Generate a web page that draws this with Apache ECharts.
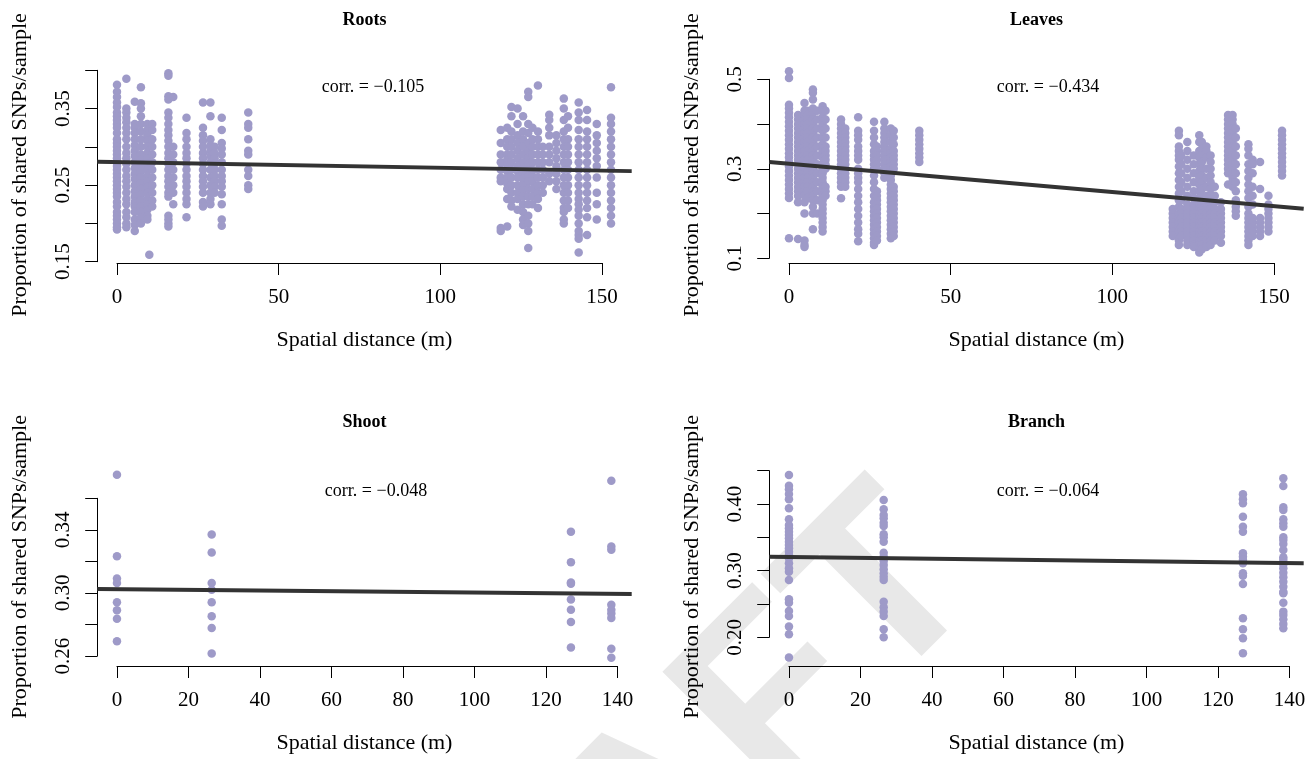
<!DOCTYPE html>
<html><head><meta charset="utf-8">
<script src="https://cdn.jsdelivr.net/npm/echarts@6/dist/echarts.min.js"></script>
<style>html,body{margin:0;padding:0;background:#fff}#c{width:1315px;height:759px}</style>
</head><body><div id="c"></div>
<script>
// ---------------- DATA ----------------
const panelTitles = ['Roots', 'Leaves', 'Shoot', 'Branch'];
const corrTexts = ['corr. = \u22120.105', 'corr. = \u22120.434', 'corr. = \u22120.048', 'corr. = \u22120.064'];
const xTitle = 'Spatial distance (m)';
const yTitle = 'Proportion of shared SNPs/sample';

// Roots: column distances and values per column
const rootsX = [0, 2.9, 5.5, 7.4, 9.4, 10.0, 10.9, 15.9, 17.4, 21.5, 26.6, 28.9, 30.2, 32.4, 40.6,
  118.7, 120.7, 122.0, 123.9, 125.6, 127.2, 128.5, 130.2, 131.7, 133.7, 135.9, 138.2, 139.5, 142.8, 145.4, 148.4, 152.8];
const rootsY = [
  [0.381,0.372,0.365,0.358,0.352,0.345,0.340,0.335,0.330,0.325,0.318,0.310,0.305,0.300,0.295,0.290,0.285,0.280,0.275,0.270,0.265,0.260,0.255,0.250,0.245,0.240,0.235,0.228,0.222,0.215,0.210,0.205,0.200,0.195,0.192],
  [0.389,0.350,0.345,0.338,0.332,0.325,0.318,0.310,0.300,0.292,0.285,0.278,0.270,0.262,0.255,0.248,0.240,0.232,0.225,0.215,0.208,0.200,0.195],
  [0.359,0.330,0.325,0.318,0.310,0.302,0.295,0.288,0.280,0.272,0.265,0.258,0.250,0.242,0.235,0.228,0.222,0.215,0.205,0.198,0.190],
  [0.378,0.357,0.350,0.340,0.330,0.320,0.310,0.300,0.290,0.283,0.275,0.268,0.260,0.252,0.245,0.238,0.230,0.222,0.215,0.208,0.200],
  [0.330,0.322,0.315,0.308,0.300,0.292,0.285,0.278,0.270,0.262,0.255,0.248,0.240,0.232,0.225,0.218,0.210,0.205],
  [0.159],
  [0.330,0.322,0.310,0.300,0.290,0.280,0.270,0.260,0.250,0.240,0.230,0.222],
  [0.396,0.393,0.366,0.362,0.345,0.338,0.330,0.322,0.315,0.308,0.300,0.292,0.285,0.278,0.270,0.262,0.255,0.248,0.240,0.235,0.210,0.205,0.200,0.196],
  [0.365,0.300,0.290,0.280,0.270,0.260,0.250,0.240,0.225],
  [0.338,0.318,0.310,0.300,0.292,0.285,0.278,0.270,0.262,0.255,0.248,0.240,0.232,0.225,0.208],
  [0.358,0.325,0.315,0.308,0.300,0.292,0.285,0.278,0.270,0.262,0.255,0.248,0.240,0.228,0.222],
  [0.358,0.340,0.310,0.302,0.295,0.288,0.280,0.270,0.260,0.250,0.240,0.232,0.225],
  [0.300,0.292,0.285,0.278,0.270,0.262,0.255,0.248,0.240],
  [0.338,0.322,0.305,0.298,0.290,0.280,0.270,0.262,0.255,0.248,0.238,0.225,0.205,0.197],
  [0.345,0.330,0.325,0.310,0.295,0.290,0.270,0.262,0.250,0.245],
  [0.322,0.305,0.290,0.280,0.270,0.260,0.255,0.194,0.190],
  [0.325,0.310,0.300,0.290,0.283,0.276,0.268,0.260,0.252,0.245,0.232,0.196],
  [0.352,0.340,0.320,0.310,0.300,0.290,0.280,0.270,0.260,0.250,0.240,0.230,0.222],
  [0.350,0.330,0.315,0.305,0.295,0.285,0.275,0.268,0.260,0.250,0.240,0.232,0.218],
  [0.340,0.320,0.310,0.300,0.290,0.280,0.272,0.265,0.258,0.250,0.243,0.235,0.225,0.215,0.205,0.198],
  [0.372,0.365,0.330,0.318,0.305,0.295,0.285,0.278,0.270,0.262,0.255,0.245,0.235,0.225,0.210,0.200,0.190,0.168],
  [0.325,0.310,0.300,0.290,0.280,0.270,0.262,0.255,0.245,0.235,0.225],
  [0.380,0.320,0.310,0.300,0.290,0.280,0.270,0.260,0.250,0.240,0.232,0.220],
  [0.300,0.290,0.280,0.270,0.260,0.250,0.240],
  [0.342,0.335,0.325,0.315,0.300,0.290,0.280,0.265,0.255],
  [0.315,0.305,0.295,0.285,0.275,0.265,0.255,0.245],
  [0.363,0.350,0.335,0.320,0.310,0.300,0.290,0.280,0.270,0.260,0.250,0.240,0.230,0.220,0.215,0.205,0.200],
  [0.340,0.325,0.310,0.300,0.290,0.280,0.270,0.260,0.250,0.240,0.230,0.220],
  [0.358,0.345,0.335,0.322,0.310,0.300,0.290,0.280,0.270,0.260,0.250,0.240,0.232,0.225,0.218,0.210,0.200,0.190,0.185,0.180,0.162],
  [0.348,0.335,0.320,0.310,0.300,0.290,0.280,0.270,0.260,0.250,0.240,0.230,0.220,0.208,0.185],
  [0.330,0.315,0.305,0.295,0.285,0.275,0.260,0.240,0.225,0.205],
  [0.378,0.338,0.330,0.320,0.310,0.300,0.290,0.280,0.270,0.260,0.250,0.240,0.230,0.220,0.210,0.200]
];
const rootsFit = [[-6.12, 0.2804], [159.2, 0.2683]];
const rootsXTicks = [0, 50, 100, 150];
const rootsYTicks = [0.15, 0.20, 0.25, 0.30, 0.35, 0.40];
const rootsYLabels = ['0.15', '0.25', '0.35'];

// Leaves
const leavesX = [0, 2.8, 4.8, 5.7, 7.4, 8.7, 10.4, 11.3, 16.1, 17.4, 21.4, 26.3, 27.2, 29.5, 31.5, 32.4, 40.3,
  118.7, 120.6, 121.3, 123.2, 125.2, 126.9, 127.7, 129.1, 130.4, 131.7, 133.6, 135.8, 137.2, 138.2, 142.1, 143.4, 145.7, 148.3, 152.5];
const leavesY = [
  [0.518,0.503,0.443,0.435,0.425,0.415,0.405,0.395,0.385,0.375,0.365,0.355,0.345,0.335,0.325,0.315,0.305,0.295,0.285,0.275,0.265,0.255,0.245,0.235,0.145],
  [0.420,0.410,0.400,0.390,0.380,0.370,0.360,0.350,0.340,0.330,0.320,0.310,0.300,0.290,0.280,0.270,0.260,0.250,0.240,0.225,0.143],
  [0.447,0.430,0.420,0.410,0.400,0.390,0.380,0.370,0.360,0.350,0.340,0.330,0.320,0.310,0.300,0.290,0.280,0.270,0.260,0.250,0.240,0.225,0.200,0.140,0.130,0.125],
  [0.430,0.420,0.410,0.400,0.390,0.380,0.370,0.360,0.350,0.340,0.330,0.320,0.310,0.300,0.290,0.280,0.270,0.260,0.250,0.235],
  [0.477,0.470,0.455,0.435,0.425,0.410,0.400,0.390,0.380,0.370,0.360,0.350,0.340,0.330,0.320,0.310,0.300,0.290,0.280,0.270,0.260,0.250,0.240,0.230,0.215,0.200,0.165],
  [0.430,0.410,0.390,0.370,0.350,0.330,0.310,0.290,0.270,0.250,0.230,0.200],
  [0.440,0.430,0.415,0.400,0.385,0.370,0.355,0.340,0.325,0.310,0.300,0.290,0.280,0.270,0.260,0.250,0.240,0.230,0.220,0.210,0.200,0.190,0.180,0.170,0.160],
  [0.430,0.410,0.390,0.370,0.350,0.340,0.330,0.320,0.310,0.300,0.260,0.250,0.240],
  [0.410,0.400,0.390,0.380,0.370,0.360,0.350,0.340,0.330,0.320,0.310,0.300,0.290,0.280,0.270,0.260,0.234],
  [0.390,0.380,0.370,0.360,0.350,0.340,0.330,0.320,0.310,0.300,0.290,0.280,0.270,0.260],
  [0.415,0.385,0.375,0.365,0.350,0.340,0.330,0.320,0.300,0.290,0.280,0.270,0.255,0.240,0.225,0.210,0.195,0.180,0.165,0.155,0.138],
  [0.405,0.385,0.370,0.355,0.340,0.330,0.320,0.310,0.300,0.285,0.270,0.255,0.240,0.225,0.215,0.205,0.195,0.185,0.175,0.165,0.155,0.145,0.135,0.130],
  [0.350,0.340,0.330,0.320,0.310,0.300,0.250,0.240,0.230,0.220,0.210,0.200,0.190,0.180,0.170,0.160,0.150,0.140],
  [0.405,0.390,0.380,0.370,0.360,0.350,0.340,0.330,0.320,0.310,0.300,0.290,0.280],
  [0.390,0.375,0.360,0.345,0.335,0.325,0.315,0.305,0.295,0.285,0.275,0.265,0.255,0.245,0.235,0.225,0.215,0.205,0.195,0.185,0.175,0.165,0.155,0.145],
  [0.385,0.370,0.355,0.340,0.330,0.320,0.310,0.300,0.260,0.250,0.240,0.230,0.220,0.210,0.200,0.190,0.180,0.170,0.160,0.150],
  [0.385,0.375,0.365,0.355,0.345,0.335,0.325,0.315],
  [0.210,0.200,0.190,0.180,0.170,0.160,0.150],
  [0.385,0.375,0.350,0.340,0.330,0.320,0.305,0.290,0.275,0.260,0.245,0.230,0.215,0.200,0.190,0.180,0.170,0.160,0.150,0.140,0.130],
  [0.330,0.310,0.290,0.270,0.250,0.230,0.210,0.200,0.190,0.180,0.170,0.160,0.150],
  [0.360,0.340,0.320,0.300,0.280,0.260,0.240,0.220,0.210,0.200,0.190,0.180,0.170,0.160,0.150,0.140,0.130],
  [0.330,0.310,0.290,0.270,0.250,0.235,0.220,0.210,0.200,0.190,0.180,0.170,0.160,0.150,0.140,0.130,0.125],
  [0.375,0.360,0.340,0.325,0.310,0.295,0.280,0.265,0.250,0.235,0.220,0.210,0.200,0.190,0.180,0.170,0.160,0.150,0.140,0.130,0.120,0.113],
  [0.360,0.345,0.330,0.315,0.300,0.285,0.270,0.255,0.240,0.225,0.210,0.200,0.190,0.180,0.170,0.160,0.150,0.140,0.130,0.120],
  [0.350,0.340,0.325,0.300,0.280,0.260,0.240,0.220,0.210,0.200,0.190,0.180,0.170,0.160,0.150,0.140,0.130,0.125],
  [0.330,0.315,0.300,0.285,0.270,0.255,0.240,0.225,0.210,0.200,0.190,0.180,0.170,0.160,0.150,0.140,0.130],
  [0.260,0.240,0.225,0.210,0.200,0.190,0.180,0.170,0.160,0.150,0.140],
  [0.225,0.210,0.200,0.190,0.180,0.170,0.160,0.150,0.135],
  [0.420,0.410,0.400,0.390,0.380,0.370,0.360,0.350,0.340,0.330,0.320,0.310,0.300,0.290,0.265],
  [0.420,0.410,0.400,0.390,0.380,0.370,0.360,0.350,0.340,0.330,0.320,0.310,0.300,0.290,0.280,0.270,0.260],
  [0.390,0.370,0.350,0.330,0.310,0.290,0.270,0.250,0.230,0.215,0.205,0.195],
  [0.355,0.345,0.330,0.310,0.295,0.280,0.265,0.250,0.235,0.215,0.200,0.190,0.180,0.170,0.160,0.150,0.140,0.130],
  [0.320,0.310,0.290,0.260,0.240,0.220,0.190,0.180,0.170,0.160,0.150],
  [0.315,0.255,0.190,0.180,0.170,0.160,0.150],
  [0.240,0.220,0.210,0.200,0.190,0.180,0.170,0.160],
  [0.385,0.375,0.365,0.355,0.345,0.335,0.325,0.315,0.305,0.295,0.285]
];
const leavesFit = [[-6.12, 0.3150], [159.2, 0.2106]];
const leavesXTicks = [0, 50, 100, 150];
const leavesYTicks = [0.1, 0.2, 0.3, 0.4, 0.5];
const leavesYLabels = ['0.1', '0.3', '0.5'];

// Shoot
const shootX = [0, 26.5, 127.0, 138.3];
const shootY = [
  [0.3749,0.3232,0.3091,0.3063,0.2941,0.2890,0.2837,0.2694],
  [0.3371,0.3257,0.3063,0.3021,0.2941,0.2852,0.2778,0.2616],
  [0.3388,0.3194,0.3067,0.3059,0.2958,0.2894,0.2816,0.2654],
  [0.3711,0.3295,0.3274,0.2926,0.2894,0.2869,0.2842,0.2646,0.2589]
];
const shootFit = [[-5.53, 0.3025], [144, 0.2994]];
const shootXTicks = [0, 20, 40, 60, 80, 100, 120, 140];
const shootYTicks = [0.26, 0.28, 0.30, 0.32, 0.34, 0.36];
const shootYLabels = ['0.26', '0.30', '0.34'];

// Branch
const branchX = [0, 26.5, 127.0, 138.3];
const branchY = [
  [0.4435,0.4275,0.4221,0.4150,0.4071,0.3936,0.3771,0.3686,0.3636,0.3585,0.3536,0.3486,0.3435,0.3386,0.3336,0.3285,0.3236,0.3186,0.3111,0.3036,0.2985,0.2861,0.2571,0.2520,0.2396,0.2321,0.2160,0.2046,0.1695],
  [0.4061,0.3921,0.3836,0.3786,0.3720,0.3671,0.3546,0.3501,0.3435,0.3270,0.3210,0.3146,0.3086,0.3021,0.2961,0.2910,0.2861,0.2535,0.2451,0.2385,0.2321,0.2121,0.2001],
  [0.4146,0.4071,0.4011,0.3810,0.3660,0.3585,0.3261,0.3210,0.3161,0.3111,0.2961,0.2925,0.2800,0.2286,0.2121,0.1986,0.1761],
  [0.4386,0.4270,0.3951,0.3910,0.3771,0.3711,0.3660,0.3501,0.3460,0.3400,0.3310,0.3201,0.3160,0.3096,0.3036,0.2970,0.2901,0.2835,0.2760,0.2685,0.2660,0.2520,0.2385,0.2336,0.2271,0.2200,0.2136]
];
const branchFit = [[-5.53, 0.3210], [144, 0.3110]];
const branchXTicks = [0, 20, 40, 60, 80, 100, 120, 140];
const branchYTicks = [0.20, 0.25, 0.30, 0.35, 0.40, 0.45];
const branchYLabels = ['0.20', '0.30', '0.40'];

// ---------------- LAYOUT ----------------
const layout = [
  {l: 97.2, r: 631.7, t: 67, b: 263, xlim: [-6.12, 159.2], ylim: [0.1483, 0.4043], title: [364.5, 20], corr: [373, 87], ytx: 20},
  {l: 769.2, r: 1303.7, t: 67, b: 263, xlim: [-6.12, 159.2], ylim: [0.0895, 0.5275], title: [1036.5, 20], corr: [1048, 87], ytx: 692},
  {l: 97.2, r: 631.7, t: 467.7, b: 666, xlim: [-5.53, 144], ylim: [0.2537, 0.3794], title: [364.5, 422], corr: [376, 491], ytx: 20},
  {l: 769.2, r: 1303.7, t: 467.7, b: 666, xlim: [-5.53, 144], ylim: [0.1569, 0.4545], title: [1036.5, 422], corr: [1048, 491], ytx: 692}
];
const panels = [
  {xs: rootsX, ys: rootsY, fit: rootsFit, xt: rootsXTicks, yt: rootsYTicks, yl: rootsYLabels},
  {xs: leavesX, ys: leavesY, fit: leavesFit, xt: leavesXTicks, yt: leavesYTicks, yl: leavesYLabels},
  {xs: shootX, ys: shootY, fit: shootFit, xt: shootXTicks, yt: shootYTicks, yl: shootYLabels},
  {xs: branchX, ys: branchY, fit: branchFit, xt: branchXTicks, yt: branchYTicks, yl: branchYLabels}
];

const FONT = 'Liberation Serif, Times New Roman, serif';
const PT = '#9e9ac8';
const LINE = '#333333';

const grid = [], xAxis = [], yAxis = [], series = [], graphic = [];

graphic.push({type: 'text', x: 640, y: 840, rotation: Math.PI / 4, z: -5, silent: true,
  style: {text: 'DRAFT', font: 'bold 250px Liberation Sans, Arial, sans-serif', fill: '#e8e8e8', textAlign: 'center', textVerticalAlign: 'middle'}});

panels.forEach((p, i) => {
  const L = layout[i];
  const X = v => L.l + (v - L.xlim[0]) / (L.xlim[1] - L.xlim[0]) * (L.r - L.l);
  const Y = v => L.b - (v - L.ylim[0]) / (L.ylim[1] - L.ylim[0]) * (L.b - L.t);
  const gA = grid.length;
  grid.push({left: L.l, top: L.t, width: L.r - L.l, height: L.b - L.t, containLabel: false, outerBoundsMode: 'none'});
  const x0 = p.xt[0], x1 = p.xt[p.xt.length - 1], y0 = p.yt[0], y1 = p.yt[p.yt.length - 1];
  grid.push({left: X(x0), top: Y(y1), width: X(x1) - X(x0), height: Y(y0) - Y(y1), containLabel: false, outerBoundsMode: 'none'});

  // data axes (hidden), carrying axis names
  xAxis.push({gridIndex: gA, type: 'value', min: L.xlim[0], max: L.xlim[1],
    axisLine: {show: false, onZero: false}, axisTick: {show: false}, axisLabel: {show: false}, splitLine: {show: false},
    name: xTitle, nameLocation: 'middle', nameGap: 77,
    nameTextStyle: {fontFamily: FONT, fontSize: 22, color: '#000', verticalAlign: 'middle'}});
  yAxis.push({gridIndex: gA, type: 'value', min: L.ylim[0], max: L.ylim[1],
    axisLine: {show: false, onZero: false}, axisTick: {show: false}, axisLabel: {show: false}, splitLine: {show: false},
    name: yTitle, nameLocation: 'middle', nameGap: L.l - L.ytx, nameRotate: 90,
    nameTextStyle: {fontFamily: FONT, fontSize: 22, color: '#000', verticalAlign: 'middle'}});

  // visible R-style axes
  const axStyle = {lineStyle: {color: '#000', width: 1}};
  xAxis.push({gridIndex: gA + 1, type: 'value', position: 'bottom', min: x0, max: x1,
    interval: Math.round((p.xt[1] - p.xt[0]) * 1000) / 1000, offset: L.b - Y(y0),
    axisLine: {show: true, onZero: false, ...axStyle}, axisTick: {show: true, length: 12, inside: false, ...axStyle},
    splitLine: {show: false},
    axisLabel: {show: true, interval: 0, margin: 34, verticalAlign: 'middle', showMinLabel: true, showMaxLabel: true, hideOverlap: false,
      fontFamily: FONT, fontSize: 21, color: '#000', formatter: v => String(Math.round(v))}});
  const dec = p.yl[0].split('.')[1].length;
  yAxis.push({gridIndex: gA + 1, type: 'value', position: 'left', min: y0, max: y1,
    interval: Math.round((p.yt[1] - p.yt[0]) * 10000) / 10000, offset: X(x0) - L.l,
    axisLine: {show: true, onZero: false, ...axStyle}, axisTick: {show: true, length: 12, inside: false, ...axStyle},
    splitLine: {show: false},
    axisLabel: {show: true, interval: 0, rotate: 90, margin: 34, verticalAlign: 'middle', showMinLabel: true, showMaxLabel: true, hideOverlap: false,
      fontFamily: FONT, fontSize: 21, color: '#000',
      formatter: v => { const s = v.toFixed(dec); return p.yl.includes(s) ? s : ''; }}});

  const pts = [];
  p.xs.forEach((x, k) => p.ys[k].forEach(y => pts.push([x, y])));
  series.push({type: 'scatter', xAxisIndex: gA, yAxisIndex: gA, data: pts, symbol: 'circle', symbolSize: 8.5,
    itemStyle: {color: PT, opacity: 1}, silent: true, z: 2});
  series.push({type: 'line', xAxisIndex: gA, yAxisIndex: gA, data: p.fit, symbol: 'none', clip: true,
    lineStyle: {color: LINE, width: 4}, silent: true, z: 3});

  graphic.push({type: 'text', x: L.title[0], y: L.title[1], z: 10,
    style: {text: panelTitles[i], font: 'bold 18px ' + FONT, fill: '#000', textAlign: 'center', textVerticalAlign: 'middle'}});
  graphic.push({type: 'text', x: L.corr[0], y: L.corr[1], z: 10,
    style: {text: corrTexts[i], font: '18px ' + FONT, fill: '#000', textAlign: 'center', textVerticalAlign: 'middle'}});
});

const chart = echarts.init(document.getElementById('c'), null, {renderer: 'canvas'});
chart.setOption({animation: false, backgroundColor: '#fff', grid, xAxis, yAxis, series, graphic});
</script>
</body></html>
